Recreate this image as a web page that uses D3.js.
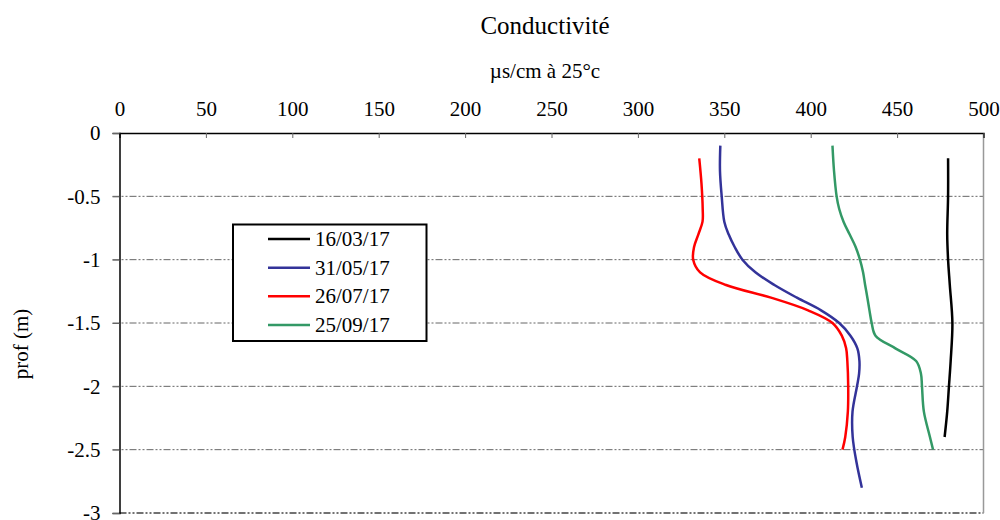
<!DOCTYPE html>
<html>
<head>
<meta charset="utf-8">
<script src="https://cdn.jsdelivr.net/npm/d3@7"></script>
<style>
  body { margin: 0; background: #fff; }
  svg, svg text { font-family: "Liberation Serif", "Times New Roman", serif; }
</style>
</head>
<body>
<div id="chart"></div>
<script>
// x axis ticks (conductivity) and y axis ticks (depth)
const xTicks = [0, 50, 100, 150, 200, 250, 300, 350, 400, 450, 500];
const yTicks = [0, -0.5, -1, -1.5, -2, -2.5, -3];

const seriesNames = ["16/03/17", "31/05/17", "26/07/17", "25/09/17"];
const seriesColors = ["#000000", "#333399", "#ff0000", "#339966"];

// depth (m) / conductivity pairs
const depth1 = [-0.2, -0.5, -0.8, -1.0, -1.2, -1.5, -1.8, -2.0, -2.2, -2.4];
const cond1 = [479.5, 479.5, 479, 479.5, 480.5, 482, 481, 480, 479, 477.5];

const depth2 = [-0.1, -0.3, -0.5, -0.7, -0.8, -0.9, -1.0, -1.1, -1.2, -1.3, -1.4, -1.5, -1.6, -1.7, -1.8, -1.9, -2.0, -2.2, -2.4, -2.6, -2.8];
const cond2 = [347.7, 347.5, 348.5, 350, 352.5, 356, 360.5, 368, 379, 392, 406, 416.5, 423, 427, 428.2, 428, 426.8, 424.2, 424.3, 426.5, 429.6];

const depth3 = [-0.2, -0.4, -0.6, -0.7, -0.8, -0.9, -1.0, -1.1, -1.2, -1.3, -1.4, -1.5, -1.6, -1.7, -1.8, -2.0, -2.2, -2.4, -2.5];
const cond3 = [335.5, 336.8, 337.5, 337.4, 335, 332.5, 332, 336, 351, 377, 398.5, 412.6, 418, 420.5, 421.2, 421.7, 421.5, 420, 418.4];

const depth4 = [-0.1, -0.3, -0.5, -0.6, -0.7, -0.8, -0.9, -1.0, -1.1, -1.2, -1.3, -1.4, -1.5, -1.6, -1.7, -1.8, -1.9, -2.0, -2.2, -2.4, -2.5];
const cond4 = [412.6, 413.5, 415, 416.5, 419, 422.5, 426, 428.5, 430.3, 431.5, 432.8, 434, 435.3, 437.5, 449, 461, 463.8, 464.4, 465.5, 469, 470.8];

const depths = [depth1, depth2, depth3, depth4];
const conds = [cond1, cond2, cond3, cond4];

const width = 1000, height = 520;
const plot = { left: 119.5, right: 983.5, top: 133, bottom: 513 };
const serif = "Liberation Serif, Times New Roman, serif";

const svg = d3.select("#chart").append("svg")
  .attr("width", width)
  .attr("height", height);

const x = d3.scaleLinear().domain([0, 500]).range([plot.left, plot.right]);
const y = d3.scaleLinear().domain([0, -3]).range([plot.top, plot.bottom]);

// title + unit
svg.append("text")
  .attr("x", 545).attr("y", 34)
  .attr("text-anchor", "middle")
  .attr("font-family", serif)
  .attr("font-size", 25)
  .text("Conductivité");

svg.append("text")
  .attr("x", 545).attr("y", 78)
  .attr("text-anchor", "middle")
  .attr("font-family", serif)
  .attr("font-size", 21)
  .text("µs/cm à 25°c");

// gridlines (dash-dot)
svg.append("g")
  .selectAll("line")
  .data(yTicks.filter(d => d !== 0 && d !== -3))
  .enter()
  .append("line")
  .attr("x1", plot.left - 7)
  .attr("x2", plot.right)
  .attr("y1", d => y(d))
  .attr("y2", d => y(d))
  .attr("stroke", "#666")
  .attr("stroke-width", 1)
  .attr("stroke-dasharray", "7,2,2,2,2,2");

// bottom border, dash-dot darker
svg.append("line")
  .attr("x1", plot.left).attr("x2", plot.right)
  .attr("y1", y(-3)).attr("y2", y(-3))
  .attr("stroke", "#444")
  .attr("stroke-width", 1.5)
  .attr("stroke-dasharray", "7,2,2,2,2,2");

// right border
svg.append("line")
  .attr("x1", plot.right).attr("x2", plot.right)
  .attr("y1", plot.top).attr("y2", plot.bottom)
  .attr("stroke", "#999")
  .attr("stroke-width", 1.5);

// top axis
const xAxis = d3.axisTop(x)
  .tickValues(xTicks)
  .tickSize(-5)
  .tickPadding(17)
  .tickFormat(d3.format("d"));

const gx = svg.append("g")
  .attr("transform", `translate(0,${plot.top})`)
  .call(xAxis)
  .attr("font-family", serif)
  .attr("font-size", 21);
gx.select(".domain").attr("stroke", "#000").attr("stroke-width", 1.5);
gx.selectAll(".tick line").attr("stroke", "#666");
gx.selectAll(".tick text").attr("fill", "#000");

// left axis
const yAxis = d3.axisLeft(y)
  .tickValues(yTicks)
  .tickSize(7)
  .tickPadding(12)
  .tickFormat(d => d === 0 ? "0" : String(d));

const gy = svg.append("g")
  .attr("transform", `translate(${plot.left},0)`)
  .call(yAxis)
  .attr("font-family", serif)
  .attr("font-size", 21);
gy.select(".domain").attr("stroke", "#000").attr("stroke-width", 1.5);
gy.selectAll(".tick line").attr("stroke", "#666");
gy.selectAll(".tick text").attr("fill", "#000");

svg.append("text")
  .attr("transform", "translate(28,344) rotate(-90)")
  .attr("text-anchor", "middle")
  .attr("font-family", serif)
  .attr("font-size", 21)
  .text("prof (m)");

// curves
const line = d3.line()
  .x(d => x(d[1]))
  .y(d => y(d[0]))
  .curve(d3.curveCatmullRom.alpha(0.5));

depths.forEach((dep, i) => {
  const pts = dep.map((d, j) => [d, conds[i][j]]);
  svg.append("path")
    .datum(pts)
    .attr("fill", "none")
    .attr("stroke", seriesColors[i])
    .attr("stroke-width", 2.5)
    .attr("d", line);
});

// legend
const legend = svg.append("g");
legend.append("rect")
  .attr("x", 233).attr("y", 224.5)
  .attr("width", 193.5).attr("height", 116.5)
  .attr("fill", "#fff")
  .attr("stroke", "#000")
  .attr("stroke-width", 2);

const rowY = d3.scaleLinear().domain([0, 3]).range([239, 325]);
seriesNames.forEach((name, i) => {
  legend.append("line")
    .attr("x1", 268).attr("x2", 310)
    .attr("y1", rowY(i)).attr("y2", rowY(i))
    .attr("stroke", seriesColors[i])
    .attr("stroke-width", 2.5);
  legend.append("text")
    .attr("x", 315).attr("y", rowY(i) + 7)
    .attr("font-family", serif)
    .attr("font-size", 21)
    .text(name);
});
</script>
</body>
</html>
